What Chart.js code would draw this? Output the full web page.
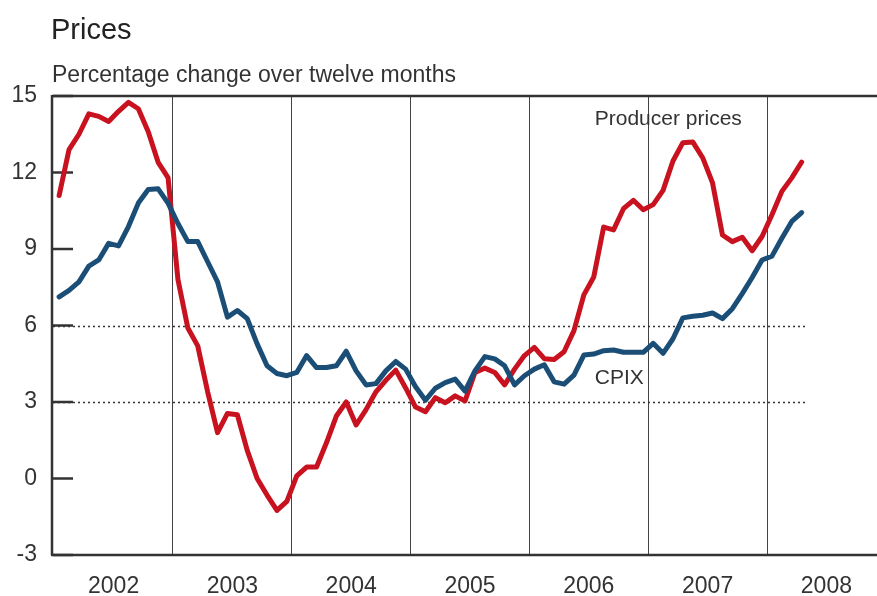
<!DOCTYPE html>
<html>
<head>
<meta charset="utf-8">
<title>Prices</title>
<script src="https://cdn.jsdelivr.net/npm/chart.js@4/dist/chart.umd.min.js"></script>
<style>
  html, body { margin: 0; padding: 0; background: #fff; }
  #wrap { width: 877px; height: 596px; }
</style>
</head>
<body>
<div id="wrap"><canvas id="chart" width="877" height="596"></canvas></div>
<script>
// Monthly values, Jan 2002 to Apr 2008 (percentage change over twelve months)
const yearLabels = ["2002", "2003", "2004", "2005", "2006", "2007", "2008"];
const yTicks = [-3, 0, 3, 6, 9, 12, 15];
const dottedLevels = [3, 6];

const producerPrices = [
    11.1, 12.9, 13.5, 14.3, 14.2, 14.0, 14.4, 14.75, 14.5, 13.6, 12.4, 11.8,   // 2002
    7.8, 5.9, 5.2, 3.4, 1.8, 2.55, 2.5, 1.1, 0.0, -0.65, -1.25, -0.9,          // 2003
    0.1, 0.45, 0.45, 1.4, 2.45, 3.0, 2.1, 2.7, 3.4, 3.85, 4.25, 3.55,          // 2004
    2.8, 2.62, 3.17, 2.97, 3.24, 3.04, 4.16, 4.33, 4.16, 3.67, 4.29, 4.82,     // 2005
    5.14, 4.7, 4.67, 4.97, 5.8, 7.2, 7.9, 9.86, 9.75, 10.58, 10.91, 10.54,     // 2006
    10.74, 11.3, 12.45, 13.17, 13.2, 12.58, 11.59, 9.55, 9.29, 9.46, 8.93, 9.49, // 2007
    10.34, 11.26, 11.79, 12.41                                                 // 2008
];

const cpix = [
    7.12, 7.38, 7.71, 8.33, 8.57, 9.22, 9.12, 9.88, 10.8, 11.33, 11.36, 10.8,  // 2002
    10.0, 9.29, 9.29, 8.5, 7.71, 6.33, 6.59, 6.27, 5.28, 4.42, 4.12, 4.03,     // 2003
    4.16, 4.82, 4.35, 4.35, 4.42, 4.99, 4.22, 3.67, 3.72, 4.22, 4.59, 4.29,    // 2004
    3.6, 3.07, 3.54, 3.76, 3.9, 3.43, 4.22, 4.78, 4.69, 4.42, 3.67, 4.03,      // 2005
    4.29, 4.46, 3.79, 3.7, 4.05, 4.84, 4.88, 5.01, 5.04, 4.95, 4.95, 4.95,     // 2006
    5.3, 4.91, 5.48, 6.3, 6.36, 6.4, 6.49, 6.27, 6.66, 7.25, 7.88, 8.57,       // 2007
    8.72, 9.42, 10.08, 10.43                                                   // 2008
];

const RED = "#c8121f";
const BLUE = "#1b4e76";
const INK = "#333333";

// points sit in the middle of their month
const toPoints = values => values.map((v, i) => ({ x: i + 0.5, y: v }));

// Frame, dotted levels, inward ticks and text labels
const framePlugin = {
    id: "frame",
    beforeDatasetsDraw(chart) {
        const { ctx, chartArea: a, scales: { x, y } } = chart;
        ctx.save();
        ctx.strokeStyle = INK;
        ctx.lineWidth = 1.3;
        ctx.setLineDash([2, 3]);
        const xEnd = x.getPixelForValue(cpix.length);
        dottedLevels.forEach(v => {
            const py = Math.round(y.getPixelForValue(v)) + 0.5;
            ctx.beginPath();
            ctx.moveTo(a.left, py);
            ctx.lineTo(xEnd, py);
            ctx.stroke();
        });
        ctx.setLineDash([]);
        ctx.lineWidth = 2.5;
        yTicks.forEach(v => {
            const py = y.getPixelForValue(v);
            ctx.beginPath();
            ctx.moveTo(a.left, py);
            ctx.lineTo(a.left + 20, py);
            ctx.stroke();
        });
        ctx.restore();
    },
    afterDatasetsDraw(chart) {
        const { ctx, chartArea: a } = chart;
        ctx.save();
        ctx.strokeStyle = INK;
        ctx.lineWidth = 2.5;
        ctx.beginPath();
        ctx.moveTo(a.left - 1, a.top);
        ctx.lineTo(chart.width, a.top);
        ctx.moveTo(a.left - 1, a.top - 1);
        ctx.lineTo(a.left - 1, a.bottom);
        ctx.moveTo(a.left - 2, a.bottom);
        ctx.lineTo(chart.width, a.bottom);
        ctx.stroke();
        ctx.restore();
    },
    afterDraw(chart) {
        const { ctx, scales: { x, y } } = chart;
        ctx.save();
        ctx.fillStyle = "#222";
        ctx.textBaseline = "alphabetic";
        ctx.textAlign = "left";
        ctx.font = "29px 'Liberation Sans'";
        ctx.fillText("Prices", 51, 39);
        ctx.fillStyle = INK;
        ctx.font = "23px 'Liberation Sans'";
        ctx.fillText("Percentage change over twelve months", 52, 82);

        ctx.font = "21px 'Liberation Sans'";
        ctx.textBaseline = "middle";
        ctx.fillText("Producer prices", x.getPixelForValue(54.6), y.getPixelForValue(14.1));
        ctx.fillText("CPIX", x.getPixelForValue(54.6), y.getPixelForValue(3.94));
        ctx.restore();
    }
};

Chart.defaults.font.family = "'Liberation Sans', Arial, sans-serif";
Chart.defaults.color = INK;

new Chart(document.getElementById("chart"), {
    type: "line",
    data: {
        datasets: [
            {
                label: "CPIX",
                data: toPoints(cpix),
                borderColor: BLUE,
                borderWidth: 5,
                tension: 0,
                pointRadius: 0,
                borderCapStyle: "round",
                borderJoinStyle: "round"
            },
            {
                label: "Producer prices",
                data: toPoints(producerPrices),
                borderColor: RED,
                borderWidth: 5,
                tension: 0,
                pointRadius: 0,
                borderCapStyle: "round",
                borderJoinStyle: "round"
            }
        ]
    },
    options: {
        responsive: false,
        animation: false,
        layout: { padding: { top: 96, right: 0, left: 0, bottom: 0 } },
        plugins: {
            legend: { display: false },
            tooltip: { enabled: false }
        },
        scales: {
            x: {
                type: "linear",
                min: -0.12,
                max: 83.11,
                afterBuildTicks: scale => {
                    const ticks = [];
                    for (let m = 6; m <= 78; m += 6) ticks.push({ value: m });
                    scale.ticks = ticks;
                },
                afterFit: scale => { scale.height = 41; },
                grid: {
                    drawTicks: false,
                    lineWidth: 1,
                    color: c => (c.tick && c.tick.value % 12 === 0) ? "#444" : "rgba(0,0,0,0)"
                },
                border: { display: false },
                ticks: {
                    autoSkip: false,
                    maxRotation: 0,
                    padding: 18,
                    font: { size: 23 },
                    callback: value => value % 12 === 6 ? yearLabels[(value - 6) / 12] : ""
                }
            },
            y: {
                min: -3,
                max: 15,
                afterBuildTicks: scale => { scale.ticks = yTicks.map(v => ({ value: v })); },
                afterFit: scale => { scale.width = 53; },
                grid: { display: false, drawTicks: false },
                border: { display: false },
                ticks: {
                    padding: 16,
                    font: { size: 23 }
                }
            }
        }
    },
    plugins: [framePlugin]
});
</script>
</body>
</html>
